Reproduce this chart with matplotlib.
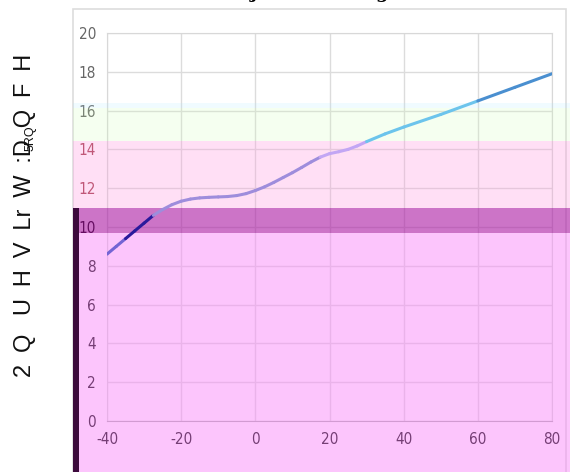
"""Glitched on-resistance curve: one line over colour-shifted bands.

Output: out.png
"""

import matplotlib

matplotlib.use("Agg")
import matplotlib.pyplot as plt
from matplotlib.collections import LineCollection
from matplotlib.patches import Rectangle
import numpy as np

W, H = 570, 472

# curve
temp = [-40, -37.5, -35, -32.5, -30, -27.5, -25, -22.5, -20, -17.5, -15, -12.5, -10, -7.5, -5,
        -2.5, 0, 2.5, 5, 7.5, 10, 12.5, 15, 17.5, 20, 22.5, 25, 27.5, 30, 35, 40, 50, 60, 70, 80]
ron = [8.6, 9.0, 9.4, 9.8, 10.2, 10.6, 10.9, 11.15, 11.33, 11.44, 11.5, 11.53, 11.55, 11.57, 11.62,
       11.72, 11.88, 12.07, 12.3, 12.55, 12.8, 13.07, 13.35, 13.6, 13.78, 13.88, 14.0, 14.18,
       14.4, 14.8, 15.15, 15.8, 16.5, 17.2, 17.9]

x_ticks = [-40, -20, 0, 20, 40, 60, 80]
y_ticks = [0, 2, 4, 6, 8, 10, 12, 14, 16, 18, 20]

title_text = "Adj. Rdon vs. Vgs"
ylabel_text = "\u2002".join(["2", "Q ", "U", "H", "V", "Lr", "W", ":D", "Q", "F", "H"])
ylabel_ghost = "5RQ"

# colour of each stretch of the line, by temperature where it changes
seg_breaks = [-35, -27, 18, 30, 56]
seg_colors = ["#7464d4", "#2a1a9c", "#9e8ddc", "#c2a6f4", "#6cc4ec", "#4a8fd0"]


def fx(px):
    return px / W


def fy(py):
    return 1 - py / H


fig = plt.figure(figsize=(W / 100, H / 100), dpi=100)
fig.patch.set_facecolor("white")
ax = fig.add_axes([fx(107), fy(421), fx(552) - fx(107), fy(33) - fy(421)])
ax.patch.set_alpha(0)

ax.set_xlim(-40, 80)
ax.set_ylim(0, 20)
ax.set_xticks(x_ticks)
ax.set_yticks(y_ticks)
ax.set_xticklabels([str(v) for v in x_ticks])
ax.set_yticklabels([str(v) for v in y_ticks])
ax.grid(True, color="#dcdcdc", lw=1.0)
ax.tick_params(length=0, pad=8, labelsize=11)
for lab in ax.get_xticklabels() + ax.get_yticklabels():
    lab.set_family(["DejaVu Sans"])
    lab.set_stretch("condensed")
for sp in ax.spines.values():
    sp.set_color("#d8d8d8")
ax.spines["bottom"].set_color("#b0b0b0")

# base label colours, chosen so they read right once the bands sit on top
for v, lab in zip(y_ticks, ax.get_yticklabels()):
    if v <= 10:
        lab.set_color("#000000")
    elif v <= 14:
        lab.set_color("#a53c4c")
    else:
        lab.set_color("#666666")
for lab in ax.get_xticklabels():
    lab.set_color("#000000")

# outer frame of the original chart box
fig.add_artist(Rectangle((fx(73), fy(480)), fx(566) - fx(73), fy(9) - fy(480),
                         transform=fig.transFigure, fill=False, ec="#dddddd", lw=1.2, zorder=-1))

# colour-shift bands laid over the plot (top px, bottom px, colour, alpha)
bands = [
    (103, 108, "#b4ebff", 0.2),
    (108, 141, "#cdffb4", 0.2),
    (141, 208, "#ff98de", 0.3),
    (208, 233, "#aa17a3", 0.6),
    (233, 480, "#fa85fa", 0.47),
]
for top, bot, col, a in bands:
    ax.add_artist(Rectangle((fx(73), fy(bot)), 1 - fx(73), fy(top) - fy(bot),
                            transform=fig.transFigure, fc=col, ec="none", alpha=a,
                            clip_on=False, zorder=3))

# dark bar on the left edge
ax.add_artist(Rectangle((fx(73), fy(480)), fx(79) - fx(73), fy(208) - fy(480),
                        transform=fig.transFigure, fc="#3c0a3c", ec="none",
                        clip_on=False, zorder=5))

pts = np.column_stack([temp, ron])
segs = np.stack([pts[:-1], pts[1:]], axis=1)
mids = (pts[:-1, 0] + pts[1:, 0]) / 2
cols = [seg_colors[np.searchsorted(seg_breaks, m)] for m in mids]
ax.add_collection(LineCollection(segs, colors=cols, lw=2.2, capstyle="round",
                                 joinstyle="round", zorder=4))

fig.text(fx(224), 1.004, title_text, fontsize=13, fontweight="bold", family="DejaVu Serif",
         va="baseline", ha="left")
fig.text(fx(25), fy(215), ylabel_text, rotation=90, fontsize=17, ha="center", va="center",
         color="#111111", family="Liberation Sans")
fig.text(fx(31), fy(138), ylabel_ghost, rotation=90, fontsize=9, ha="center", va="center",
         color="#111111", family="Liberation Sans")

fig.savefig("out.png", dpi=100)
